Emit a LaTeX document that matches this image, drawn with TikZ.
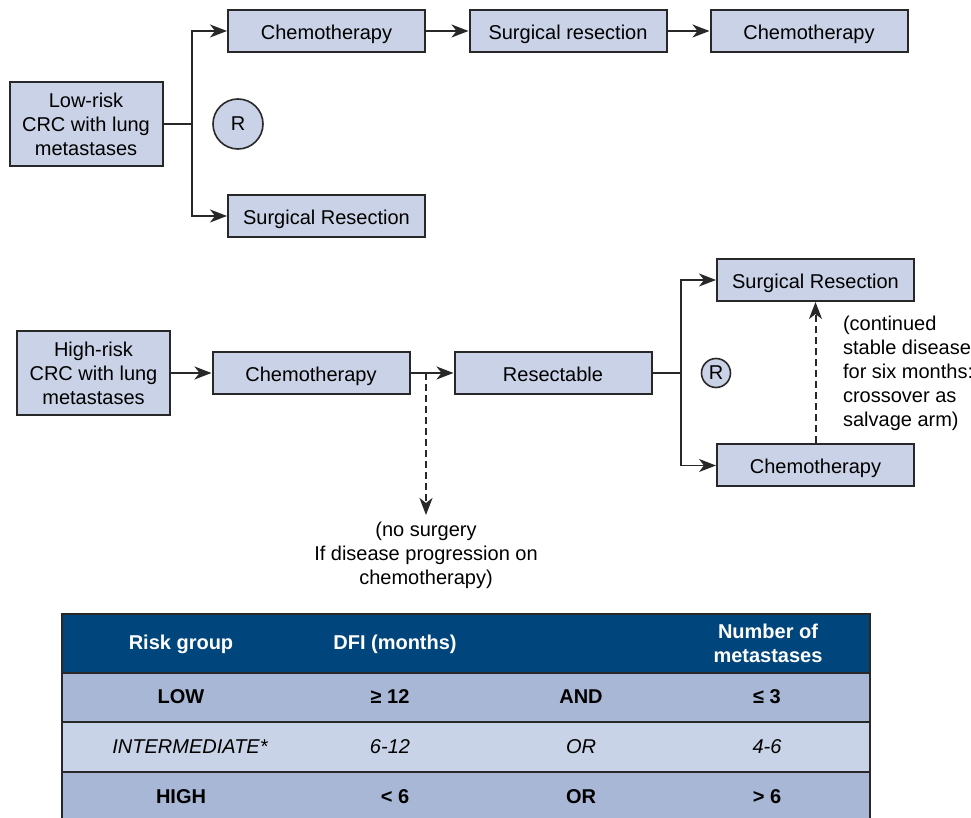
\documentclass[tikz,border=0pt]{standalone}
\usepackage{fontspec}
\setmainfont{Liberation Sans}
\usetikzlibrary{arrows.meta}
\definecolor{boxfill}{RGB}{201,210,230}
\definecolor{boxline}{RGB}{40,40,40}
\definecolor{headblue}{RGB}{0,69,124}
\definecolor{rowdark}{RGB}{168,183,213}
\definecolor{rowlight}{RGB}{201,211,231}
\tikzset{
    box/.style={draw=boxline, fill=boxfill, line width=1pt, inner sep=0pt,
        minimum width=98.5pt, minimum height=21pt, align=center},
    onebox/.style={box, text height=10.2pt, text depth=2pt},
    bigbox/.style={box, minimum width=76.5pt, minimum height=42pt},
    rnode/.style={circle, draw=boxline, fill=boxfill, line width=0.8pt, inner sep=0pt},
    link/.style={draw=boxline, line width=0.8pt},
    arrow/.style={link, -{Stealth[length=8.5pt,width=6.5pt,inset=2.5pt]}},
    dasharrow/.style={arrow, line width=1pt, dash pattern=on 3.5pt off 2pt},
    tline/.style={draw=boxline, line width=1pt},
    headtext/.style={text=white, font=\fontsize{10}{12}\selectfont\bfseries, align=center},
    celltext/.style={font=\fontsize{10}{12}\selectfont\bfseries},
    celltextit/.style={font=\fontsize{10}{12}\selectfont\itshape}
}
\begin{document}
\begin{tikzpicture}[x=0.5pt, y=-0.5pt, font=\fontsize{10}{12}\selectfont]
        \useasboundingbox (0,0) rectangle (971,818);

        % low-risk arm
        \node[bigbox] (lowrisk) at (86,124) {Low-risk\\CRC with lung\\metastases};
        \node[onebox] (chemoA) at (326.5,31) {Chemotherapy};
        \node[onebox] (surgA) at (568,31) {Surgical resection};
        \node[onebox] (chemoB) at (809,31) {Chemotherapy};
        \node[onebox] (surgB) at (326.5,216) {Surgical Resection};
        \node[rnode, minimum size=25pt] (randA) at (238,124) {R};
        \coordinate (forkA) at (192,124);

        \draw[link] (lowrisk.east) -- (forkA);
        \draw[arrow] (forkA) |- (chemoA.west);
        \draw[arrow] (forkA) |- (surgB.west);
        \draw[arrow] (chemoA) -- (surgA);
        \draw[arrow] (surgA) -- (chemoB);

        % high-risk arm
        \node[bigbox] (highrisk) at (93.5,373) {High-risk\\CRC with lung\\metastases};
        \node[onebox] (chemoC) at (311,373) {Chemotherapy};
        \node[onebox] (resect) at (553,373) {Resectable};
        \node[onebox] (surgC) at (815.5,280) {Surgical Resection};
        \node[onebox] (chemoD) at (815.5,465.5) {Chemotherapy};
        \node[rnode, minimum size=14.5pt] (randB) at (716,373) {R};
        \coordinate (forkB) at (681,373);
        \coordinate (split) at (426,373);
        \coordinate (nosurg) at (426,515);

        \draw[arrow] (highrisk) -- (chemoC);
        \draw[arrow] (chemoC) -- (resect);
        \draw[link] (resect.east) -- (forkB);
        \draw[arrow] (forkB) |- (surgC.west);
        \draw[arrow] (forkB) |- (chemoD.west);
        \draw[dasharrow] (split) -- (nosurg);
        \draw[dasharrow] (chemoD) -- (surgC);

        % notes
        \node[align=center, below] (noteA) at (nosurg) {(no surgery\\If disease progression on\\chemotherapy)};
        \node[align=left, anchor=west] (noteB) at (836,373) {(continued\\stable disease\\for six months:\\crossover as\\salvage arm)};

        % table
        \fill[headblue] (62,614) rectangle (870,673);
        \fill[rowdark] (62,673) rectangle (870,722);
        \fill[rowlight] (62,722) rectangle (870,772);
        \fill[rowdark] (62,772) rectangle (870,818);
        \draw[tline] (62,818) -- (62,614) -- (870,614) -- (870,818);
        \draw[tline] (62,673) -- (870,673);
        \draw[tline] (62,722) -- (870,722);
        \draw[tline] (62,772) -- (870,772);

        \node[headtext] (hrisk) at (181,644) {Risk group};
        \node[headtext] (hdfi) at (395,644) {DFI (months)};
        \node[headtext] (hnum) at (768,643) {Number of\\metastases};

        \node[celltext] (lowA) at (181,697) {LOW};
        \node[celltext] (lowB) at (390,697) {≥ 12};
        \node[celltext] (lowC) at (581,697) {AND};
        \node[celltext] (lowD) at (767,697) {≤ 3};

        \node[celltextit] (midA) at (190,747) {INTERMEDIATE*};
        \node[celltextit] (midB) at (390,747) {6-12};
        \node[celltextit] (midC) at (581,747) {OR};
        \node[celltextit] (midD) at (767,747) {4-6};

        \node[celltext] (highA) at (181,797) {HIGH};
        \node[celltext] (highB) at (395,797) {< 6};
        \node[celltext] (highC) at (581,797) {OR};
        \node[celltext] (highD) at (767,797) {> 6};
    \end{tikzpicture}
\end{document}
